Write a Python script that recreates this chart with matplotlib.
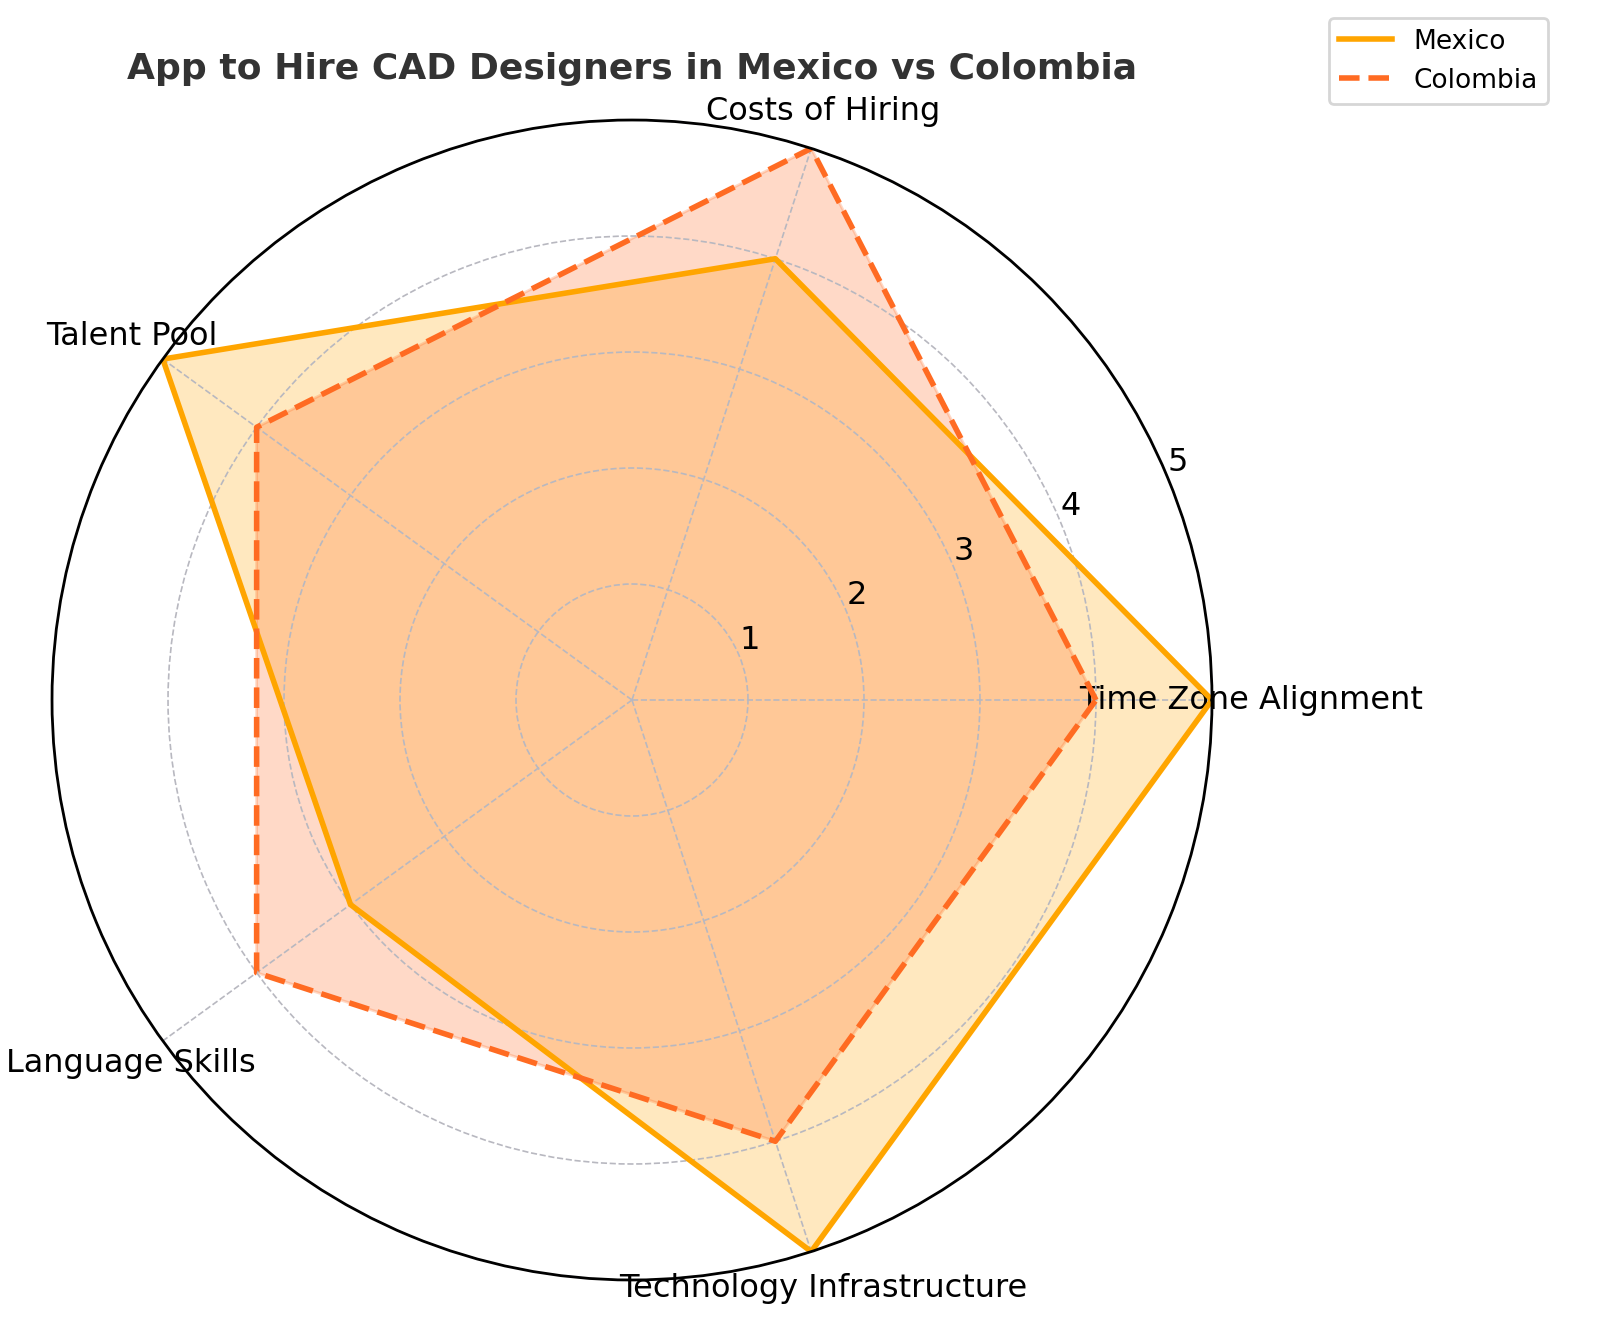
import numpy as np
import matplotlib
matplotlib.use('Agg')
import matplotlib.pyplot as plt

# categories and scores
categories = ['Time Zone Alignment', 'Costs of Hiring', 'Talent Pool',
              'Language Skills', 'Technology Infrastructure']
mexico = [5, 4, 5, 3, 5]
colombia = [4, 5, 4, 4, 4]
r_ticks = [1, 2, 3, 4, 5]

mexico_color = '#FFA500'
colombia_color = '#FF6B22'

n = len(categories)
angles = np.linspace(0, 2 * np.pi, n, endpoint=False).tolist()
angles_closed = angles + angles[:1]
mex_closed = mexico + mexico[:1]
col_closed = colombia + colombia[:1]

fig = plt.figure(figsize=(8, 6.705), dpi=200)
ax = fig.add_axes([0.0325, 0.0455, 0.725, 0.865], polar=True)

ax.plot(angles_closed, mex_closed, color=mexico_color, linewidth=2, linestyle='-', label='Mexico')
ax.fill(angles_closed, mex_closed, color=mexico_color, alpha=0.25)
ax.plot(angles_closed, col_closed, color=colombia_color, linewidth=2, linestyle='--', label='Colombia')
ax.fill(angles_closed, col_closed, color=colombia_color, alpha=0.25)

ax.set_ylim(0, 5)
ax.set_yticks(r_ticks)
ax.set_yticklabels([str(t) for t in r_ticks], fontsize=11.5)
ax.set_xticks(angles)
ax.set_xticklabels(categories, fontsize=11.5)
ax.grid(True, linestyle='--', color='#b8b8c0', linewidth=0.6)
ax.spines['polar'].set_color('black')
ax.spines['polar'].set_linewidth(1)

ax.set_title('App to Hire CAD Designers in Mexico vs Colombia',
             fontsize=13, fontweight='bold', color='#333333')

fig.legend(loc='upper right', bbox_to_anchor=(0.9675, 0.9866), borderaxespad=0,
           fontsize=9.5, edgecolor='#cccccc')

fig.savefig('out.png', dpi=200)
